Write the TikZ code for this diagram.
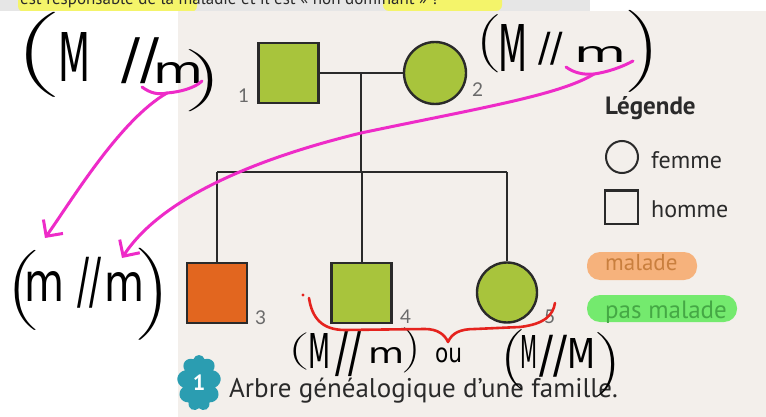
\documentclass[tikz,border=0pt]{standalone}
\usepackage{fontspec}
\usepackage{graphicx}
\setmainfont{PT Sans}
\newfontfamily\numfont{Lato}
\newfontfamily\hwfam{DejaVu Sans}
\usetikzlibrary{arrows.meta,shapes.symbols,calc}
\definecolor{page}{HTML}{F3EFEB}
\definecolor{band}{HTML}{E6E6E6}
\definecolor{hlyellow}{HTML}{F4F46A}
\definecolor{leafgreen}{HTML}{A8C43C}
\definecolor{rustorange}{HTML}{E2661F}
\definecolor{hlorange}{HTML}{F6B27C}
\definecolor{txorange}{HTML}{C97F3E}
\definecolor{hlgreen}{HTML}{74EA6E}
\definecolor{txgreen}{HTML}{45A845}
\definecolor{magentaink}{HTML}{EE2BC8}
\definecolor{redink}{HTML}{E5231E}
\definecolor{badgeteal}{HTML}{2B9DB1}
\definecolor{inkgrey}{HTML}{2A2A2A}
\definecolor{numgrey}{HTML}{6A6A6A}
\newcommand\hwt[3]{\resizebox*{#1pt}{#2pt}{\hwfam\fontsize{40}{40}\selectfont #3}}
\newcommand\hwp[3]{\resizebox*{#1pt}{#2pt}{$\Bigg#3$}}
\begin{document}
\begin{tikzpicture}[x=1pt,y=-1pt,
  hw/.style={inner sep=0pt,outer sep=0pt,text=black},
  sq/.style={draw=inkgrey,line width=2.4pt,minimum size=60pt,inner sep=0pt},
  ci/.style={circle,draw=inkgrey,line width=2.4pt,minimum size=62pt,inner sep=0pt},
  kin/.style={draw=inkgrey,line width=2pt},
  num/.style={font=\numfont\fontsize{19}{19}\selectfont,text=numgrey,inner sep=0pt,anchor=base west},
  booktext/.style={inner sep=0pt,anchor=base west,text=inkgrey},
  hlbox/.style={rounded corners=13pt,inner sep=0pt,draw=none},
  pinkink/.style={draw=magentaink,line width=3pt,line cap=round,line join=round},
  pinkarrow/.style={pinkink,-{Straight Barb[length=12pt,width=24pt]}},
  redline/.style={draw=redink,line width=2.6pt,line cap=round,line join=round}
]
\useasboundingbox (0,0) rectangle (766,417);
% backgrounds
\fill[white] (0,0) rectangle (766,417);
\fill[page] (178,11) rectangle (766,417);
\fill[white] (590,0) rectangle (766,11);
\begin{scope}
  \clip (0,0) rectangle (590,11);
  \fill[band] (0,0) rectangle (590,11);
  \node[fill=hlyellow,rounded corners=6pt,minimum width=179pt,minimum height=20pt,inner sep=0pt] (hly1) at (107.5,2) {};
  \node[fill=hlyellow,rounded corners=6pt,minimum width=119pt,minimum height=18pt,inner sep=0pt] (hly2) at (442.5,2) {};
  \node[booktext,font=\fontsize{17}{17}\selectfont] (topq) at (20,5) {est responsable de la maladie et il est «~non dominant~» ?};
\end{scope}
% pedigree
\node[sq,fill=leafgreen] (p1) at (288.5,73) {};
\node[ci,fill=leafgreen] (p2) at (435,73) {};
\node[sq,fill=rustorange] (p3) at (217,293) {};
\node[sq,fill=leafgreen] (p4) at (361.5,293) {};
\node[ci,fill=leafgreen,minimum size=60pt] (p5) at (507,292.5) {};
\coordinate (m12) at ($(p1.east)!0.5!(p2.west)$);
\coordinate (sib) at (m12 |- 0,172);
\draw[kin] (p1.east) -- (p2.west);
\draw[kin] (m12) -- (sib);
\draw[kin] (p3.north |- sib) -- (p5.north |- sib);
\draw[kin] (p3.north |- sib) -- (p3.north);
\draw[kin] (p4.north |- sib) -- (p4.north);
\draw[kin] (p5.north |- sib) -- (p5.north);
\node[num] (n1) at (238,103) {1};
\node[num] (n2) at (472,97) {2};
\node[num] (n3) at (255,324) {3};
\node[num] (n4) at (400,323) {4};
\node[num] (n5) at (544,323) {5};
% legend
\node[booktext,font=\bfseries\fontsize{25}{25}\selectfont] (leg) at (605,115) {Légende};
\node[ci,line width=2pt,minimum size=32pt,fill=none] (lc) at (622,157) {};
\node[booktext,font=\fontsize{24}{24}\selectfont] (lf) at (651,168) {femme};
\node[sq,line width=2pt,minimum size=33pt,fill=none] (ls) at (621.5,207) {};
\node[booktext,font=\fontsize{24}{24}\selectfont] (lh) at (651,217) {homme};
\node[hlbox,fill=hlorange,minimum width=110pt,minimum height=28pt] (hlm) at (642,266) {};
\node[booktext,font=\fontsize{23}{23}\selectfont,text=txorange] (lm) at (605,270) {malade};
\node[hlbox,fill=hlgreen,minimum width=150pt,minimum height=27pt] (hlp) at (662,308.5) {};
\node[booktext,font=\fontsize{25}{25}\selectfont,text=txgreen] (lp) at (605,318) {pas malade};
% caption
\node[cloud,cloud puffs=9,aspect=0.8,fill=badgeteal,minimum width=44pt,minimum height=56pt,inner sep=0pt,text=white,font=\bfseries\fontsize{22}{22}\selectfont] (badge) at (199,383) {1};
\node[booktext,font=\fontsize{27}{27}\selectfont] (cap) at (229,397) {Arbre généalogique d’une famille.};
% handwriting top left
\node[hw] (tla) at (36,55) {\hwp{44}{85}{(}};
\node[hw] (tlb) at (74,57.5) {\hwt{32}{49}{M}};
\node[hw] (tlc) at (140.5,61) {\hwt{38}{46}{//}};
\node[hw] (tld) at (178.5,73.5) {\hwt{50}{21}{m}};
\node[hw] (tle) at (206,81) {\hwp{36}{62}{)}};
% handwriting top right
\node[hw] (tra) at (487.5,44) {\hwp{24}{58}{(}};
\node[hw] (trb) at (512.5,48.5) {\hwt{29}{47}{M}};
\node[hw] (trc) at (550.5,48.5) {\hwt{25}{33}{//}};
\node[hw] (trd) at (600.5,55) {\hwt{52}{16}{m}};
\node[hw] (tre) at (644,51) {\hwp{34}{82}{)}};
% handwriting middle left
\node[hw] (mla) at (22,290) {\hwp{32}{80}{(}};
\node[hw] (mlb) at (44,286) {\hwt{40}{30}{m}};
\node[hw] (mlc) at (89,282.5) {\hwt{24}{51}{//}};
\node[hw] (mld) at (124,287) {\hwt{40}{29}{m}};
\node[hw] (mle) at (155,294) {\hwp{34}{92}{)}};
% handwriting bottom
\node[hw] (ba) at (297.5,351.5) {\hwp{20}{37}{(}};
\node[hw] (bb) at (319,350.5) {\hwt{22}{35}{M}};
\node[hw] (bc) at (348.5,354.5) {\hwt{26}{45}{//}};
\node[hw] (bd) at (386.5,355) {\hwt{36}{16}{m}};
\node[hw] (be) at (412.5,350.5) {\hwp{18}{45}{)}};
\node[hw] (bf) at (448.5,355.5) {\hwt{27}{15}{ou}};
\node[hw] (bg) at (511,360) {\hwp{24}{60}{(}};
\node[hw] (bh) at (528.5,351.5) {\hwt{17}{33}{M}};
\node[hw] (bi) at (553,356) {\hwt{28}{42}{//}};
\node[hw] (bj) at (581,353) {\hwt{28}{30}{M}};
\node[hw] (bk) at (609,365) {\hwp{26}{64}{)}};
% magenta underlines and arrows
\coordinate (tlu1) at (142,87);
\coordinate (tlf) at (167,93);
\coordinate (tlu2) at (202,81);
\coordinate (tip1) at (45,238);
\draw[pinkink] (tlu1) .. controls (150,93) and (158,95) .. (tlf) .. controls (180,92) and (195,88) .. (tlu2);
\draw[pinkarrow] (tlf) .. controls (120,120) and (72,200) .. (tip1);
\coordinate (tru1) at (566,67);
\coordinate (trf) at (594,74);
\coordinate (tru2) at (633,61);
\coordinate (trm) at (361,133);
\coordinate (tip2) at (122,258);
\draw[pinkink] (tru1) .. controls (574,73) and (584,75) .. (trf) .. controls (608,72) and (622,67) .. (tru2);
\draw[pinkarrow] (trf) .. controls (560,95) and (480,108) .. (trm) .. controls (250,160) and (160,200) .. (tip2);
% red brace
\coordinate (rb0) at (309,298);
\coordinate (rbt) at (448,342);
\coordinate (rb1) at (555,303);
\fill[redink] (303,295) circle (1.6pt);
\draw[redline] (rb0) .. controls (312,318) and (322,330) .. (345,330) -- (425,329) .. controls (438,329) and (445,335) .. (rbt) .. controls (452,333) and (460,329) .. (475,329) -- (520,327) .. controls (545,324) and (553,315) .. (rb1);
\end{tikzpicture}
\end{document}
